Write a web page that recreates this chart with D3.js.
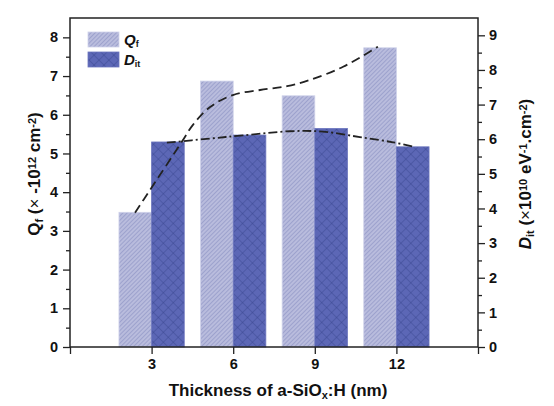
<!DOCTYPE html>
<html lang="en">
<head>
    <meta charset="utf-8">
    <script src="https://cdn.jsdelivr.net/npm/d3@7"></script>
    <style>
        body { margin: 0; background: #fff; }
        text { font-family: "Liberation Sans", Arial, sans-serif; font-weight: bold; fill: #111; }
    </style>
</head>
<body>
<script>

    // data
    let thickness = [3, 6, 9, 12];
    let qf = [3.48, 6.87, 6.49, 7.73];
    let dit = [5.92, 6.12, 6.31, 5.78];

    // guide curves (x in nm, y in axis units)
    let qfCurve = [[2.39, 3.47], [2.86, 3.97], [4.11, 5.30], [4.52, 5.74], [5.15, 6.20], [5.99, 6.51],
        [6.99, 6.64], [7.98, 6.74], [8.82, 6.90], [10.04, 7.24], [11.32, 7.76]];
    let ditCurve = [[3.56, 5.90], [5.15, 6.02], [6.36, 6.11], [8.09, 6.23], [9.30, 6.22],
        [10.66, 6.06], [11.88, 5.91], [12.61, 5.79]];

    let xTicks = [0, 3, 6, 9, 12, 15];
    let leftTicks = [0, 1, 2, 3, 4, 5, 6, 7, 8];
    let rightTicks = [0, 1, 2, 3, 4, 5, 6, 7, 8, 9];

    //Width and height
    let w = 554;
    let h = 406;
    let m = {top: 18, right: 76, bottom: 59, left: 70};

    let svg = d3.select("body")
        .append("svg")
        .attr("width", w)
        .attr("height", h);

    let x = d3.scaleLinear().domain([0, 15]).range([m.left, w - m.right]);
    let yL = d3.scaleLinear().domain([0, 8.5]).range([h - m.bottom, m.top]);
    let yR = d3.scaleLinear().domain([0, 9.5]).range([h - m.bottom, m.top]);
    let barW = x(1.2) - x(0);

    // hatch patterns
    let defs = svg.append("defs");
    let p1 = defs.append("pattern").attr("id", "hatchQ")
        .attr("patternUnits", "userSpaceOnUse").attr("width", 3).attr("height", 3)
        .attr("patternTransform", "rotate(45)");
    p1.append("rect").attr("width", 3).attr("height", 3).attr("fill", "#b9bcdd");
    p1.append("line").attr("x1", 0).attr("y1", 0).attr("x2", 0).attr("y2", 3)
        .attr("stroke", "#8b90c2").attr("stroke-width", 1.2);

    let p2 = defs.append("pattern").attr("id", "hatchD")
        .attr("patternUnits", "userSpaceOnUse").attr("width", 7).attr("height", 7)
        .attr("patternTransform", "rotate(45)");
    p2.append("rect").attr("width", 7).attr("height", 7).attr("fill", "#5c67b6");
    p2.append("line").attr("x1", 0).attr("y1", 0).attr("x2", 0).attr("y2", 7)
        .attr("stroke", "#37428c").attr("stroke-width", 0.8);
    p2.append("line").attr("x1", 0).attr("y1", 0).attr("x2", 7).attr("y2", 0)
        .attr("stroke", "#37428c").attr("stroke-width", 0.8);

    // bars
    svg.selectAll(".barQ")
        .data(thickness)
        .enter()
        .append("rect")
        .attr("x", (d) => x(d) - barW)
        .attr("y", (d, i) => yL(qf[i]))
        .attr("width", barW)
        .attr("height", (d, i) => yL(0) - yL(qf[i]))
        .attr("fill", "url(#hatchQ)")
        .attr("stroke", "#cfd2ea").attr("stroke-width", 0.8);

    svg.selectAll(".barD")
        .data(thickness)
        .enter()
        .append("rect")
        .attr("x", (d) => x(d))
        .attr("y", (d, i) => yR(dit[i]))
        .attr("width", barW)
        .attr("height", (d, i) => yR(0) - yR(dit[i]))
        .attr("fill", "url(#hatchD)")
        .attr("stroke", "#6b75be").attr("stroke-width", 0.8);

    // guide curves
    svg.append("path")
        .datum(qfCurve)
        .attr("d", d3.line().x(d => x(d[0])).y(d => yL(d[1])).curve(d3.curveCatmullRom))
        .attr("fill", "none").attr("stroke", "#222").attr("stroke-width", 1.8)
        .attr("stroke-dasharray", "9,5");

    svg.append("path")
        .datum(ditCurve)
        .attr("d", d3.line().x(d => x(d[0])).y(d => yR(d[1])).curve(d3.curveCatmullRom))
        .attr("fill", "none").attr("stroke", "#222").attr("stroke-width", 1.8)
        .attr("stroke-dasharray", "9,3,2,3");

    // axes
    svg.append("g")
        .attr("transform", "translate(0," + yL(0) + ")")
        .call(d3.axisBottom(x).tickValues(xTicks).tickSize(7).tickPadding(5)
            .tickFormat(d => (d === 0 || d === 15) ? "" : d));

    svg.append("g")
        .attr("transform", "translate(" + m.left + ",0)")
        .call(d3.axisLeft(yL).tickValues(leftTicks).tickSize(7).tickPadding(5));
    svg.append("g")
        .attr("transform", "translate(" + m.left + ",0)")
        .call(d3.axisLeft(yL).tickValues(d3.range(0.5, 8.5, 1)).tickSize(4).tickFormat(""));

    svg.append("g")
        .attr("transform", "translate(" + (w - m.right) + ",0)")
        .call(d3.axisRight(yR).tickValues(rightTicks).tickSize(7).tickPadding(4));
    svg.append("g")
        .attr("transform", "translate(" + (w - m.right) + ",0)")
        .call(d3.axisRight(yR).tickValues(d3.range(0.5, 9.5, 1)).tickSize(4).tickFormat(""));

    svg.selectAll(".domain").remove();
    svg.selectAll(".tick line").attr("stroke", "#222").attr("stroke-width", 1.3);
    svg.selectAll(".tick text").style("font-size", "14.5px").style("font-family", "Liberation Sans, Arial, sans-serif")
        .style("font-weight", "bold").attr("fill", "#111");

    // frame
    svg.append("rect")
        .attr("x", m.left).attr("y", m.top)
        .attr("width", w - m.left - m.right).attr("height", h - m.top - m.bottom)
        .attr("fill", "none").attr("stroke", "#222").attr("stroke-width", 1.5);

    // axis titles
    svg.append("text")
        .attr("x", (m.left + w - m.right) / 2 + 4).attr("y", 396)
        .attr("text-anchor", "middle").style("font-size", "17px")
        .html("Thickness of a-SiO<tspan baseline-shift='-25%' font-size='11px'>x</tspan>:H (nm)");

    svg.append("text")
        .attr("transform", "translate(40,174) rotate(-90)")
        .attr("text-anchor", "middle").style("font-size", "17px")
        .html("Q<tspan baseline-shift='-25%' font-size='11px'>f</tspan> (<tspan font-weight='normal'>×</tspan> -10<tspan baseline-shift='40%' font-size='11px'>12</tspan> cm<tspan baseline-shift='40%' font-size='11px'>-2</tspan>)");

    svg.append("text")
        .attr("transform", "translate(531,174) rotate(-90)")
        .attr("text-anchor", "middle").style("font-size", "17px")
        .html("<tspan font-style='italic'>D</tspan><tspan baseline-shift='-25%' font-size='11px'>it</tspan> (<tspan font-weight='normal'>×</tspan>10<tspan baseline-shift='40%' font-size='11px'>10</tspan> eV<tspan baseline-shift='40%' font-size='11px'>-1</tspan>.cm<tspan baseline-shift='40%' font-size='11px'>-2</tspan>)");

    // legend
    let legend = [["Q", "f", "url(#hatchQ)", "#cfd2ea"], ["D", "it", "url(#hatchD)", "#6b75be"]];
    legend.forEach(function (d, i) {
        svg.append("rect")
            .attr("x", 88).attr("y", 32 + i * 20).attr("width", 31).attr("height", 15)
            .attr("fill", d[2]).attr("stroke", d[3]).attr("stroke-width", 0.8);
        svg.append("text")
            .attr("x", 124).attr("y", 45 + i * 20).style("font-size", "15px")
            .html("<tspan font-style='italic'>" + d[0] + "</tspan><tspan baseline-shift='-25%' font-size='9px'>" + d[1] + "</tspan>");
    });

</script>
</body>
</html>
